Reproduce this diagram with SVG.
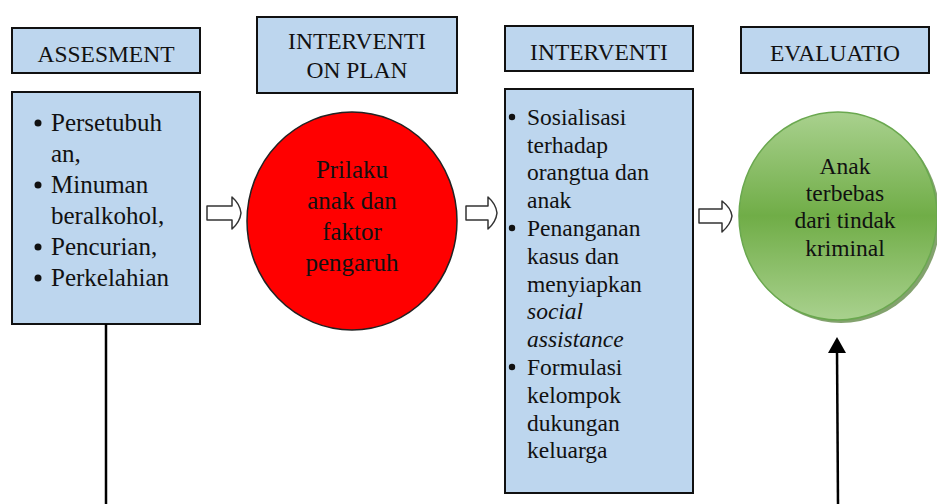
<svg xmlns="http://www.w3.org/2000/svg" width="937" height="504" viewBox="0 0 937 504">
<defs>
<style>
.box{fill:#bdd6ee;stroke:#111;stroke-width:2}
text{font-family:'Liberation Serif','DejaVu Serif',serif;fill:#111}
.h{font-size:23.5px;text-anchor:middle}
.b{font-size:25px}
.s{font-size:23.5px}
.blk{fill:#fff;stroke:#333;stroke-width:1.5;stroke-linejoin:round}
.ln{stroke:#000;stroke-width:2.5;fill:none}
</style>
<linearGradient id="g" x1="0" y1="0" x2="0" y2="1">
<stop offset="0" stop-color="#a9d18e"/>
<stop offset="0.5" stop-color="#70ad47"/>
<stop offset="1" stop-color="#a9d18e"/>
</linearGradient>
</defs>

<g id="assesment-header">
<rect class="box" x="12" y="28" width="188" height="45"/>
<text class="h" x="106" y="62">ASSESMENT</text>
</g>
<g id="assesment-body">
<rect class="box" x="12" y="92" width="188" height="232"/>
<g class="b">
<circle cx="38" cy="123" r="3.5" fill="#111"/>
<text x="51" y="131">Persetubuh</text>
<text x="51" y="162">an,</text>
<circle cx="38" cy="185" r="3.5" fill="#111"/>
<text x="51" y="193">Minuman</text>
<text x="51" y="224">beralkohol,</text>
<circle cx="38" cy="247" r="3.5" fill="#111"/>
<text x="51" y="255">Pencurian,</text>
<circle cx="38" cy="278" r="3.5" fill="#111"/>
<text x="51" y="286">Perkelahian</text>
</g>
</g>

<g id="plan-header">
<rect class="box" x="257" y="17" width="200" height="76"/>
<text class="h" x="357" y="49">INTERVENTI</text>
<text class="h" x="357" y="78">ON PLAN</text>
</g>
<g id="plan-circle">
<ellipse cx="352" cy="221" rx="105" ry="109" fill="#ff0000" stroke="#222" stroke-width="1.5"/>
<g class="b" text-anchor="middle">
<text x="352" y="178">Prilaku</text>
<text x="352" y="209">anak dan</text>
<text x="352" y="240">faktor</text>
<text x="352" y="271">pengaruh</text>
</g>
</g>

<g id="interventi-header">
<rect class="box" x="505" y="26" width="188" height="45"/>
<text class="h" x="599" y="60">INTERVENTI</text>
</g>
<g id="interventi-body">
<rect class="box" x="505" y="89" width="188" height="404"/>
<g class="s">
<circle cx="512" cy="117" r="3.2" fill="#111"/>
<text x="527" y="125">Sosialisasi</text>
<text x="527" y="153">terhadap</text>
<text x="527" y="180">orangtua dan</text>
<text x="527" y="208">anak</text>
<circle cx="512" cy="228" r="3.2" fill="#111"/>
<text x="527" y="236">Penanganan</text>
<text x="527" y="264">kasus dan</text>
<text x="527" y="292">menyiapkan</text>
<text x="527" y="319" font-style="italic">social</text>
<text x="527" y="347" font-style="italic">assistance</text>
<circle cx="512" cy="367" r="3.2" fill="#111"/>
<text x="527" y="375">Formulasi</text>
<text x="527" y="403">kelompok</text>
<text x="527" y="431">dukungan</text>
<text x="527" y="458">keluarga</text>
</g>
</g>

<g id="evaluatio-header">
<rect class="box" x="741" y="27" width="188" height="46"/>
<text class="h" x="835" y="61">EVALUATIO</text>
</g>
<g id="evaluatio-circle">
<ellipse cx="841" cy="219" rx="99" ry="104" fill="#4e7a31" opacity="0.7"/>
<ellipse cx="838" cy="216" rx="99" ry="104" fill="url(#g)" stroke="#6aa84f" stroke-width="1.5"/>
<g class="s" text-anchor="middle">
<text x="845" y="174">Anak</text>
<text x="845" y="201">terbebas</text>
<text x="845" y="228">dari tindak</text>
<text x="845" y="256">kriminal</text>
</g>
</g>

<g id="connectors">
<path class="blk" d="M207,206 H232 V197 Q240,204 241,213 Q240,222 232,229 V220 H207 Z"/>
<path class="blk" d="M466,206 H488 V197 Q496,204 497,213 Q496,222 488,229 V220 H466 Z"/>
<path class="blk" d="M699,209 H722 V201 Q731,208 732,216 Q731,224 722,232 V223 H699 Z"/>
<line class="ln" x1="106" y1="324" x2="106" y2="504"/>
<line class="ln" x1="838" y1="504" x2="837" y2="350"/>
<path d="M828,353 L837,337 L846,353 Z" fill="#000"/>
</g>
</svg>
